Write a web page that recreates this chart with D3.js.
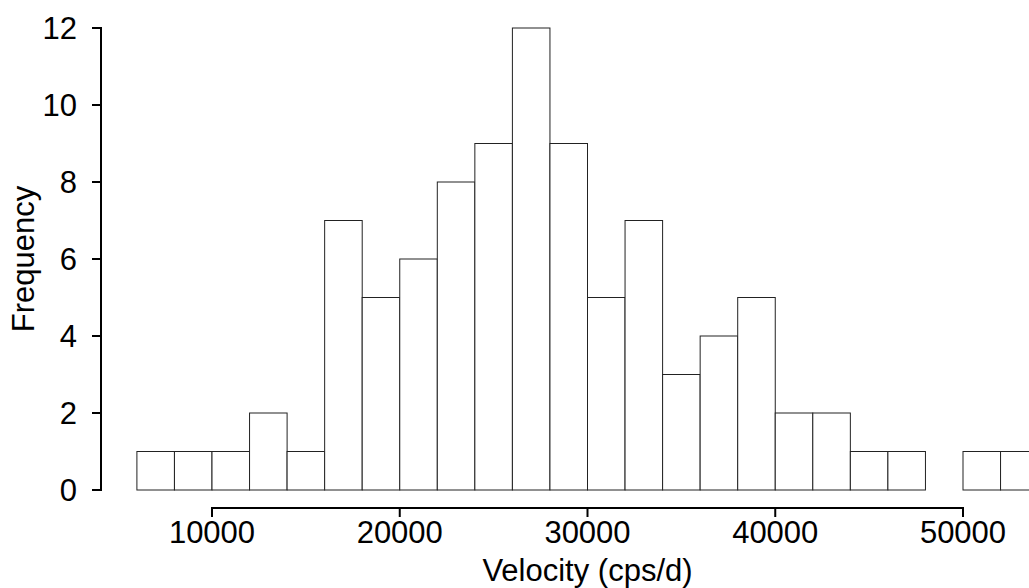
<!DOCTYPE html>
<html>
<head>
<meta charset="utf-8">
<script src="https://cdn.jsdelivr.net/npm/d3@7"></script>
<style>
html,body{margin:0;padding:0;background:#fff;overflow:hidden;}
text{font-family:"Liberation Sans",Arial,sans-serif;fill:#000;}
</style>
</head>
<body>
<svg id="chart" width="1029" height="588"></svg>
<script>
const binStarts = [6000,8000,10000,12000,14000,16000,18000,20000,22000,24000,26000,28000,30000,32000,34000,36000,38000,40000,42000,44000,46000,48000,50000,52000];
const binWidth = 2000;
const counts = [1,1,1,2,1,7,5,6,8,9,12,9,5,7,3,4,5,2,2,1,1,0,1,1];
const xTicks = [10000,20000,30000,40000,50000];
const yTicks = [0,2,4,6,8,10,12];
const xTitle = "Velocity (cps/d)";
const yTitle = "Frequency";

const FS = "31px";
const svg = d3.select("#chart");
const x = d3.scaleLinear().domain([10000,50000]).range([212,963]);
const y = d3.scaleLinear().domain([0,12]).range([490,28]);

// bars
svg.append("g").selectAll("rect")
  .data(binStarts.map((s,i)=>({s, c: counts[i]})).filter(d=>d.c>0))
  .enter().append("rect")
  .attr("x", d=>x(d.s))
  .attr("width", d=>x(d.s+binWidth)-x(d.s))
  .attr("y", d=>y(d.c))
  .attr("height", d=>y(0)-y(d.c))
  .attr("fill","#fff")
  .attr("stroke","#222")
  .attr("stroke-width",1);

// x axis
const gx = svg.append("g").attr("transform","translate(0,508)");
gx.append("line").attr("x1",x(xTicks[0])).attr("x2",x(xTicks[xTicks.length-1]))
  .attr("y1",0).attr("y2",0).attr("stroke","#000").attr("stroke-width",2);
gx.selectAll(".t").data(xTicks).enter().append("line")
  .attr("x1",d=>x(d)).attr("x2",d=>x(d)).attr("y1",-1).attr("y2",9)
  .attr("stroke","#000").attr("stroke-width",2);
gx.selectAll(".l").data(xTicks).enter().append("text")
  .attr("x",d=>x(d)).attr("y",35).attr("text-anchor","middle")
  .attr("font-size",FS).text(d=>d);

// y axis
const gy = svg.append("g").attr("transform","translate(101,0)");
gy.append("line").attr("x1",0).attr("x2",0).attr("y1",y(0)).attr("y2",y(12))
  .attr("stroke","#000").attr("stroke-width",2);
gy.selectAll(".t").data(yTicks).enter().append("line")
  .attr("x1",-9).attr("x2",1).attr("y1",d=>y(d)).attr("y2",d=>y(d))
  .attr("stroke","#000").attr("stroke-width",2);
gy.selectAll(".l").data(yTicks).enter().append("text")
  .attr("x",-24).attr("y",d=>y(d)).attr("dy","0.35em").attr("text-anchor","end")
  .attr("font-size",FS).text(d=>d);

// titles
svg.append("text").attr("x",(x(6000)+x(54000))/2).attr("y",581)
  .attr("text-anchor","middle").attr("font-size",FS).text(xTitle);
svg.append("text").attr("transform","translate(34,"+((y(0)+y(12))/2)+") rotate(-90)")
  .attr("text-anchor","middle").attr("font-size",FS).text(yTitle);
</script>
</body>
</html>
